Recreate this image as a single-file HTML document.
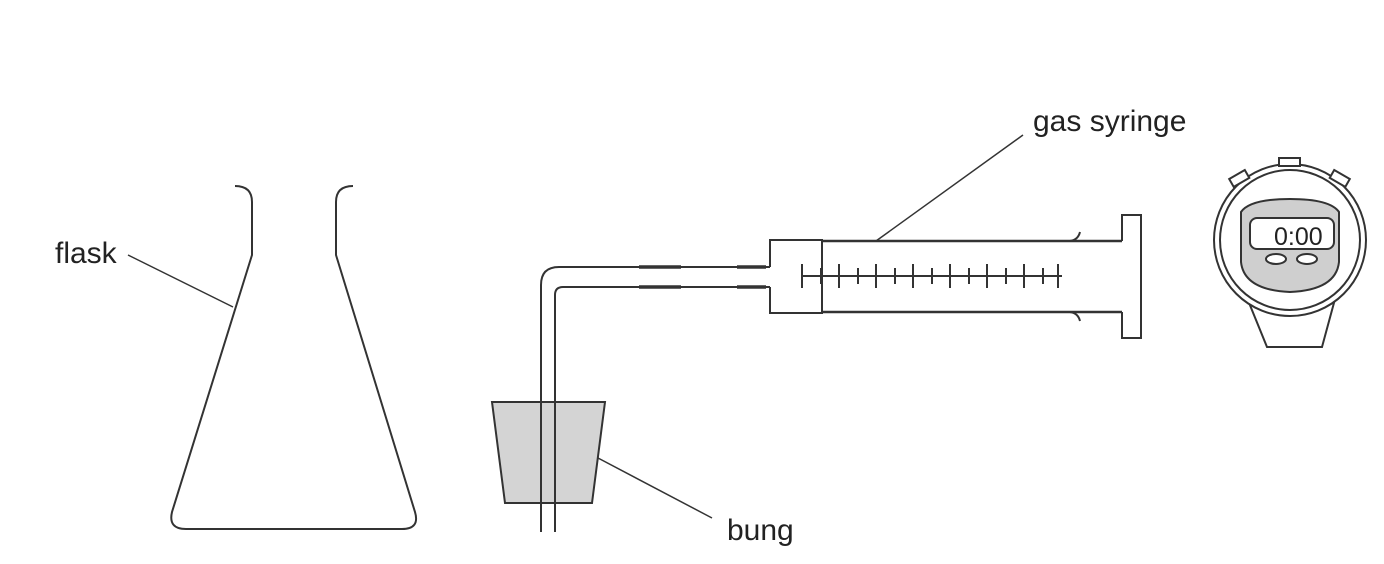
<!DOCTYPE html>
<html><head><style>body{margin:0;background:#fff}svg{display:block}text{font-family:"Liberation Sans",sans-serif;font-size:30px;fill:#222}</style></head><body>
<svg width="1384" height="564" viewBox="0 0 1384 564" fill="none" stroke="#333" stroke-width="2">
<!-- flask -->
<path d="M235,186 Q252,186 252,202 L252,255 L172,512 Q168,529 186,529 L402,529 Q420,529 415,512 L336,255 L336,202 Q336,186 353,186"/>
<line x1="128" y1="255" x2="233" y2="307" stroke-width="1.5"/>
<text x="55" y="263" stroke="none">flask</text>
<!-- bung -->
<path d="M492,402 L605,402 L592,503 L505,503 Z" fill="#d4d4d4"/>
<line x1="598" y1="458" x2="712" y2="518" stroke-width="1.5"/>
<text x="727" y="540" stroke="none">bung</text>
<!-- tube -->
<path d="M541,532 L541,285 Q541,267 559,267 L770,267" fill="none"/>
<path d="M555,532 L555,295 Q555,287 563,287 L770,287" fill="none"/>
<path d="M639,267 L681,267 M639,287 L681,287 M737,267 L766,267 M737,287 L766,287" stroke-width="3.5"/>
<!-- syringe -->
<path d="M770,267 L770,240 L822,240 L822,313 L770,313 L770,287"/>
<path d="M822,241 L1122,241 M822,312 L1122,312" stroke-width="2.5"/>
<path d="M1070,241 Q1078,240 1080,232 M1070,312 Q1078,313 1080,321"/>
<path d="M1122,241 L1122,215 L1141,215 L1141,338 L1122,338 L1122,312"/>
<line x1="802" y1="276" x2="1062" y2="276"/>
<g stroke-width="2">
<line x1="802" y1="264" x2="802" y2="288"/><line x1="821" y1="268" x2="821" y2="284"/>
<line x1="839" y1="264" x2="839" y2="288"/><line x1="858" y1="268" x2="858" y2="284"/>
<line x1="876" y1="264" x2="876" y2="288"/><line x1="895" y1="268" x2="895" y2="284"/>
<line x1="913" y1="264" x2="913" y2="288"/><line x1="932" y1="268" x2="932" y2="284"/>
<line x1="950" y1="264" x2="950" y2="288"/><line x1="969" y1="268" x2="969" y2="284"/>
<line x1="987" y1="264" x2="987" y2="288"/><line x1="1006" y1="268" x2="1006" y2="284"/>
<line x1="1024" y1="264" x2="1024" y2="288"/><line x1="1043" y1="268" x2="1043" y2="284"/>
<line x1="1058" y1="264" x2="1058" y2="288"/></g>
<line x1="876" y1="241" x2="1023" y2="135" stroke-width="1.5"/>
<text x="1033" y="131" stroke="none">gas syringe</text>
<!-- stopwatch -->
<path d="M1243,288 L1267,347 L1322,347 L1338,288" fill="#fff"/>
<circle cx="1290" cy="240" r="76" fill="#fff"/>
<circle cx="1290" cy="240" r="70"/>
<path d="M1241,212 Q1250,199 1290,199 Q1330,199 1339,212 L1339,262 Q1336,290 1290,292 Q1244,290 1241,262 Z" fill="#cfcfcf"/>
<rect x="1250" y="218" width="84" height="31" rx="7" fill="#fff"/>
<text x="1274" y="245" stroke="none" style="font-size:25px" fill="#333">0:00</text>
<ellipse cx="1276" cy="259" rx="10" ry="5" fill="#fff"/>
<ellipse cx="1307" cy="259" rx="10" ry="5" fill="#fff"/>
<rect x="1279" y="158" width="21" height="8" fill="#fff"/>
<rect x="1230" y="174" width="18" height="9" fill="#fff" transform="rotate(-30 1239 178)"/>
<rect x="1331" y="174" width="18" height="9" fill="#fff" transform="rotate(30 1340 178)"/>
</svg>
</body></html>
